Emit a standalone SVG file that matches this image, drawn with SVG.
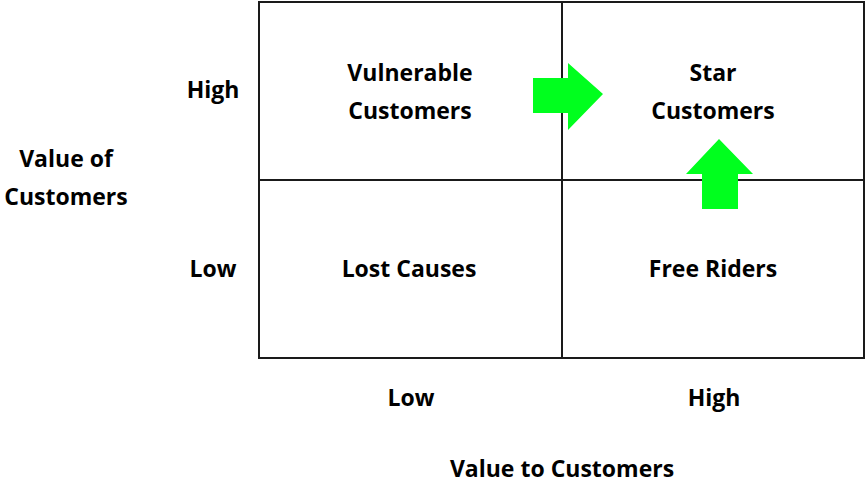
<svg xmlns="http://www.w3.org/2000/svg" width="866" height="482" viewBox="0 0 866 482">
<style>
text{font-family:"Open Sans","Liberation Sans",sans-serif;font-weight:bold;font-size:23px;fill:#000;text-anchor:middle}
.ln{stroke:#1a1a1a;stroke-width:2;fill:none}
.ar{fill:#00ff1e;stroke:none}
</style>
<rect width="866" height="482" fill="#fff"/>
<g id="grid">
<rect class="ln" x="259" y="2" width="605" height="356"/>
<line class="ln" x1="562" y1="2" x2="562" y2="358"/>
<line class="ln" x1="259" y1="180" x2="864" y2="180"/>
</g>
<g id="vulnerable"><text x="410" y="81">Vulnerable</text><text x="410" y="119">Customers</text></g>
<g id="star"><text x="713" y="81">Star</text><text x="713" y="119">Customers</text></g>
<g id="lost"><text x="409" y="277">Lost Causes</text></g>
<g id="free"><text x="713" y="277">Free Riders</text></g>
<g id="axis-y">
<text x="66" y="167">Value of</text><text x="66" y="205">Customers</text>
<text x="213" y="98">High</text><text x="213" y="277">Low</text>
</g>
<g id="axis-x">
<text x="411" y="406">Low</text><text x="714" y="406">High</text>
<text x="562" y="477">Value to Customers</text>
</g>
<g id="connectors">
<polygon class="ar" points="533,78 568,78 568,63 603,94 568,130 568,113 533,113"/>
<polygon class="ar" points="702,209 702,174 686,174 719,139 753,174 738,174 738,209"/>
</g>
</svg>
